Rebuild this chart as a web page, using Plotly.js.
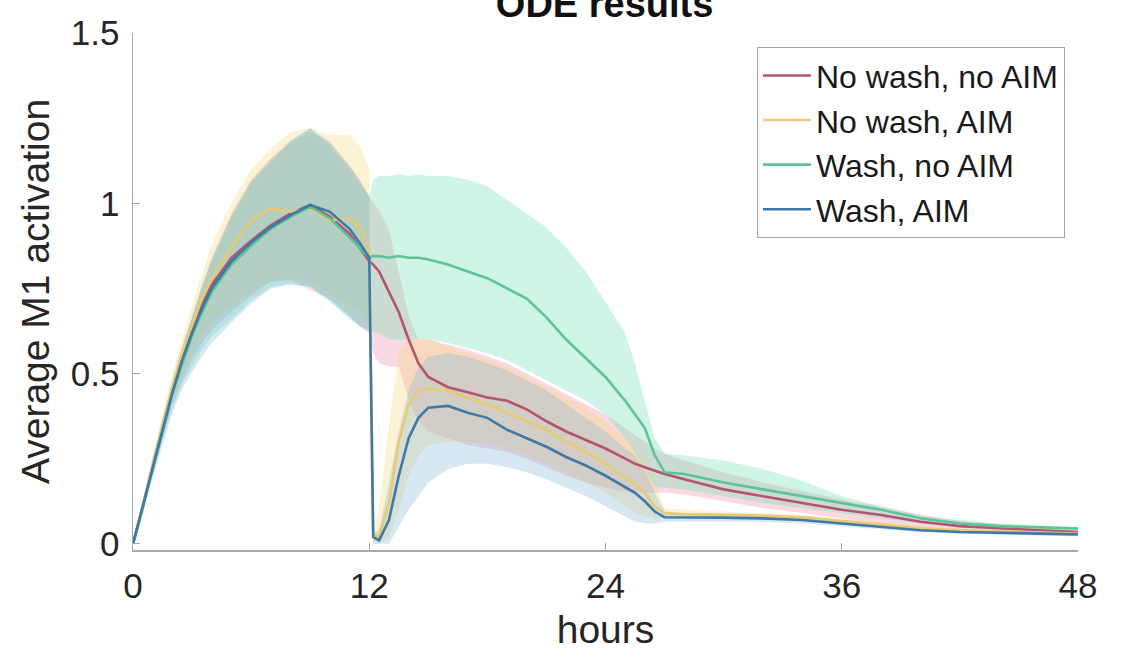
<!DOCTYPE html>
<html>
<head>
<meta charset="utf-8">
<script src="https://cdn.plot.ly/plotly-3.0.1.min.js"></script>
<style>html,body{margin:0;padding:0;background:#fff;}#chart{width:1128px;height:665px;}</style>
</head>
<body>
<div id="chart"></div>
<script>
// time (hours)
const hours = [0,0.5,1,1.5,2,2.5,3,3.5,4,5,6,7,8,9,10,11,11.5,12,
  12.2,12.5,13,13.5,14,14.5,15,16,17,18,19,20,21,22,23,24,25,25.5,26,26.5,27,28,30,32,34,36,38,40,42,44,46,48];

const seriesNames = ["No wash, no AIM","No wash, AIM","Wash, no AIM","Wash, AIM"];

// No wash, no AIM
const redMean = [0,0.11,0.23,0.345,0.455,0.55,0.63,0.70,0.76,0.84,0.89,0.935,0.97,0.995,0.96,0.91,0.87,0.83,
  0.82,0.80,0.74,0.68,0.60,0.53,0.49,0.46,0.445,0.43,0.42,0.395,0.36,0.33,0.305,0.28,0.25,0.235,0.225,0.215,0.205,0.19,0.16,0.14,0.12,0.10,0.085,0.065,0.052,0.045,0.04,0.035];
const redHi = [0,0.12,0.25,0.37,0.48,0.58,0.67,0.76,0.84,0.97,1.07,1.13,1.18,1.21,1.18,1.11,1.07,1.02,
  1.0,0.98,0.92,0.80,0.67,0.60,0.60,0.585,0.57,0.55,0.53,0.50,0.47,0.44,0.41,0.38,0.34,0.32,0.30,0.28,0.265,0.245,0.21,0.18,0.155,0.13,0.11,0.085,0.068,0.058,0.05,0.045];
const redLo = [0,0.10,0.21,0.31,0.41,0.48,0.54,0.59,0.63,0.68,0.73,0.77,0.775,0.745,0.72,0.67,0.64,0.62,
  0.56,0.53,0.52,0.52,0.42,0.36,0.33,0.31,0.29,0.28,0.27,0.25,0.225,0.20,0.18,0.165,0.155,0.15,0.15,0.15,0.15,0.145,0.125,0.105,0.09,0.075,0.06,0.048,0.04,0.035,0.03,0.028];

// No wash, AIM
const yelMean = [0,0.115,0.235,0.35,0.46,0.56,0.64,0.72,0.78,0.87,0.95,0.985,0.975,0.985,0.95,0.955,0.93,0.86,
  0.03,0.02,0.12,0.30,0.41,0.45,0.455,0.45,0.43,0.41,0.385,0.36,0.335,0.30,0.27,0.235,0.195,0.175,0.15,0.11,0.09,0.087,0.085,0.083,0.078,0.067,0.056,0.046,0.04,0.036,0.033,0.03];
const yelHi = [0,0.125,0.26,0.38,0.50,0.60,0.70,0.79,0.88,1.0,1.1,1.16,1.21,1.22,1.2,1.2,1.17,1.1,
  0.04,0.10,0.35,0.56,0.60,0.60,0.60,0.58,0.56,0.54,0.52,0.49,0.46,0.43,0.40,0.36,0.31,0.28,0.24,0.18,0.105,0.10,0.095,0.09,0.085,0.075,0.063,0.052,0.045,0.04,0.036,0.033];
const yelLo = [0,0.10,0.21,0.32,0.42,0.50,0.56,0.61,0.65,0.70,0.74,0.77,0.78,0.77,0.73,0.70,0.68,0.64,
  0.0,0.0,0.02,0.10,0.20,0.26,0.29,0.30,0.30,0.295,0.28,0.26,0.235,0.21,0.18,0.15,0.11,0.09,0.08,0.075,0.075,0.075,0.073,0.07,0.066,0.058,0.048,0.04,0.035,0.031,0.028,0.026];

// Wash, no AIM
const grnMean = [0,0.105,0.22,0.33,0.44,0.53,0.61,0.68,0.74,0.82,0.875,0.925,0.96,0.99,0.955,0.90,0.87,0.84,
  0.845,0.845,0.84,0.845,0.84,0.84,0.835,0.82,0.80,0.78,0.75,0.72,0.665,0.60,0.545,0.49,0.42,0.38,0.34,0.26,0.21,0.205,0.18,0.16,0.14,0.12,0.10,0.075,0.06,0.052,0.048,0.045];
const grnHi = [0,0.12,0.245,0.36,0.47,0.57,0.66,0.75,0.83,0.96,1.06,1.12,1.18,1.22,1.17,1.10,1.06,1.02,
  1.07,1.08,1.08,1.085,1.08,1.085,1.08,1.08,1.07,1.05,1.01,0.97,0.93,0.87,0.80,0.71,0.62,0.53,0.42,0.31,0.265,0.26,0.245,0.22,0.185,0.14,0.11,0.085,0.07,0.06,0.055,0.05];
const grnLo = [0,0.095,0.20,0.30,0.40,0.47,0.52,0.57,0.61,0.66,0.715,0.755,0.765,0.755,0.71,0.66,0.64,0.63,
  0.62,0.62,0.60,0.60,0.60,0.60,0.60,0.59,0.575,0.56,0.54,0.51,0.48,0.45,0.42,0.38,0.31,0.27,0.22,0.17,0.165,0.16,0.14,0.12,0.105,0.09,0.075,0.06,0.05,0.045,0.04,0.04];

// Wash, AIM
const bluMean = [0,0.11,0.225,0.335,0.445,0.54,0.62,0.69,0.75,0.83,0.885,0.93,0.965,0.995,0.975,0.925,0.885,0.84,
  0.02,0.01,0.07,0.20,0.31,0.37,0.40,0.405,0.385,0.37,0.335,0.31,0.285,0.255,0.23,0.20,0.165,0.15,0.125,0.095,0.078,0.078,0.077,0.075,0.07,0.06,0.05,0.04,0.035,0.032,0.03,0.028];
const bluHi = [0,0.12,0.25,0.365,0.475,0.575,0.665,0.755,0.835,0.965,1.065,1.13,1.185,1.22,1.18,1.11,1.07,1.02,
  0.03,0.04,0.18,0.33,0.45,0.52,0.55,0.56,0.55,0.53,0.51,0.48,0.45,0.41,0.37,0.33,0.28,0.26,0.22,0.15,0.095,0.09,0.088,0.085,0.08,0.07,0.058,0.048,0.042,0.038,0.034,0.031];
const bluLo = [0,0.095,0.195,0.29,0.385,0.455,0.505,0.55,0.59,0.65,0.705,0.75,0.76,0.755,0.715,0.665,0.64,0.62,
  0.0,0.0,0.0,0.05,0.10,0.14,0.18,0.22,0.235,0.235,0.225,0.21,0.19,0.165,0.14,0.11,0.08,0.065,0.06,0.06,0.065,0.066,0.066,0.064,0.06,0.052,0.043,0.035,0.03,0.027,0.024,0.022];

const xTicks = [0,12,24,36,48];
const yTicks = [0,0.5,1,1.5];
const yTickText = ["0","0.5","1","1.5"];

const lineColors = ["#b5546f","#e8ca72","#5cc497","#3f7aa6"];
const fillColors = ["rgba(238,140,165,0.32)","rgba(245,215,120,0.32)","rgba(110,225,180,0.32)","rgba(130,185,215,0.32)"];

const means = [redMean,yelMean,grnMean,bluMean];
const highs = [redHi,yelHi,grnHi,bluHi];
const lows = [redLo,yelLo,grnLo,bluLo];

const traces = [];
for (let i=0;i<4;i++){
  traces.push({
    x: hours.concat(hours.slice().reverse()),
    y: highs[i].concat(lows[i].slice().reverse()),
    type:'scatter', mode:'lines', fill:'toself',
    fillcolor: fillColors[i], line:{width:0, color:fillColors[i]},
    showlegend:false, hoverinfo:'skip'
  });
}
for (let i=0;i<4;i++){
  traces.push({
    x: hours, y: means[i], type:'scatter', mode:'lines',
    name: seriesNames[i], line:{color:lineColors[i], width:2.6}
  });
}

const fontFam = "Liberation Sans, Arial, Helvetica, sans-serif";
const layout = {
  width:1128, height:665,
  paper_bgcolor:'#fff', plot_bgcolor:'#fff',
  margin:{l:133, r:50, t:33, b:115},
  font:{family:fontFam, color:'#262626', size:35},
  title:{text:'<b>ODE results</b>', font:{size:38, color:'#111'}, x:0.536, xanchor:'center', yref:'container', y:0.994, yanchor:'middle'},
  showlegend:true,
  legend:{x:0.986, xanchor:'right', y:0.973, yanchor:'top', bgcolor:'#fff', bordercolor:'#a5a5a5', borderwidth:1.2,
    font:{size:32, color:'#1a1a1a'}, itemwidth:48, tracegroupgap:0},
  xaxis:{range:[0,48], tickvals:xTicks, ticktext:xTicks.map(String), ticks:'inside', ticklen:7, tickcolor:'#a8a8a8', tickwidth:1.2,
    showline:true, linecolor:'#a8a8a8', linewidth:1.5, showgrid:false, zeroline:false, mirror:false,
    tickfont:{size:35, color:'#262626'}, ticklabelstandoff:4,
    title:{text:'hours', font:{size:39, color:'#262626'}, standoff:12}, automargin:false},
  yaxis:{range:[-0.018,1.5], tickvals:yTicks, ticktext:yTickText, ticks:'inside', ticklen:7, tickcolor:'#a8a8a8', tickwidth:1.2,
    showline:true, linecolor:'#a8a8a8', linewidth:1.5, showgrid:false, zeroline:false, mirror:false,
    tickfont:{size:35, color:'#262626'}, ticklabelstandoff:5,
    title:{text:'Average M1 activation', font:{size:39, color:'#262626'}, standoff:9}, automargin:false}
};

Plotly.newPlot('chart', traces, layout, {displayModeBar:false, staticPlot:true});
</script>
</body>
</html>
